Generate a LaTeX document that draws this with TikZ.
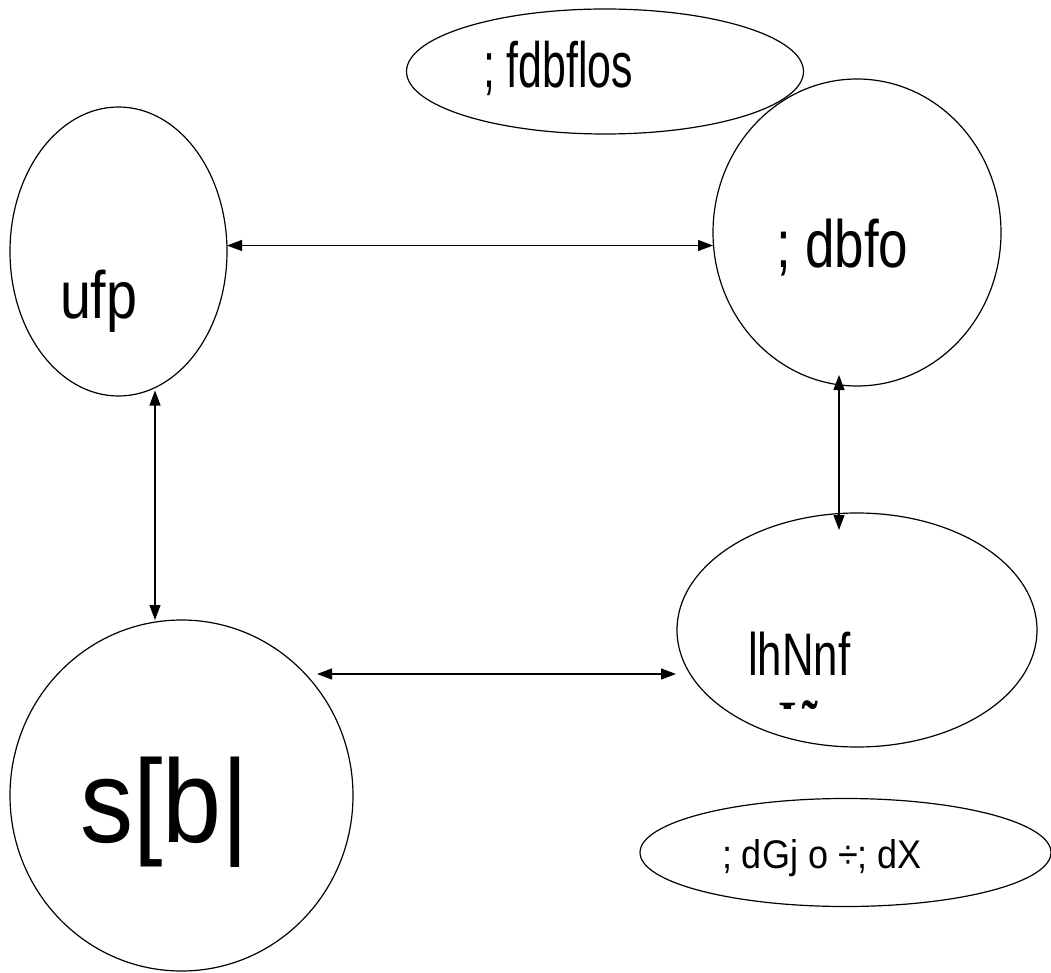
\documentclass[tikz,border=0pt]{standalone}
\usepackage{fontspec}
\setmainfont{Liberation Sans}
\newfontfamily\serifbold[FakeStretch=0.8]{Liberation Serif}
\usepackage{tikz}
\usetikzlibrary{shapes.geometric,arrows.meta}

\begin{document}
\begin{tikzpicture}[x=1pt,y=-1pt]
  \tikzset{ShapeStyle/.style = {
    shape         = ellipse,
    draw          = black,
    fill          = white,
    line width    = 1.2pt,
    inner sep     = 0pt,
    outer sep     = 0pt
    }
  }
  \tikzset{TextStyle/.style = {
    text          = black,
    inner sep     = 0pt,
    outer sep     = 0pt,
    anchor        = base west
    }
  }
  \tikzset{EdgeStyle/.style = {
    draw          = black,
    line width    = 1.2pt,
    {Triangle[length=15pt,width=11pt]}-{Triangle[length=15pt,width=11pt]}
    }
  }
  \useasboundingbox (0, 0) rectangle (1051, 973);

	\node[ShapeStyle, minimum width=397pt, minimum height=125pt](Top) at (605, 71.5) {};
	\node[ShapeStyle, minimum width=217pt, minimum height=289pt](Left) at (118.5, 251.5) {};
	\node[ShapeStyle, minimum width=288pt, minimum height=307pt](Right) at (857, 232.5) {};
	\node[ShapeStyle, minimum width=360pt, minimum height=234pt](Mid) at (857, 630) {};
	\node[ShapeStyle, minimum width=343pt, minimum height=351pt](Big) at (181.5, 795.5) {};
	\node[ShapeStyle, minimum width=411pt, minimum height=108pt](Low) at (845.5, 852.5) {};

	\node[TextStyle, font=\addfontfeature{FakeStretch=0.67}\fontsize{64}{70}\selectfont](TopText) at (483, 88) {; fdbflos};
	\node[TextStyle, font=\addfontfeature{FakeStretch=0.83}\fontsize{67}{72}\selectfont](LeftText) at (60, 318) {ufp};
	\node[TextStyle, font=\addfontfeature{FakeStretch=0.79}\fontsize{67}{72}\selectfont](RightText) at (776, 268) {; dbfo};
	\node[TextStyle, font=\addfontfeature{FakeStretch=0.73}\fontsize{60}{66}\selectfont](MidText) at (748, 675) {lhNnf};
	\begin{scope}
	  \clip (740, 690) rectangle (900, 708);
	  \node[TextStyle, font=\serifbold\bfseries\fontsize{60}{66}\selectfont](MidTextB) at (778, 742) {Iñ};
	\end{scope}
	\node[TextStyle, font=\addfontfeature{FakeStretch=0.9}\fontsize{118}{124}\selectfont](BigText) at (80, 842) {s[b|};
	\node[TextStyle, font=\addfontfeature{FakeStretch=0.9}\fontsize{40}{46}\selectfont](LowText) at (722, 868) {; dGj o ÷; dX};

	\draw[EdgeStyle]([yshift=6pt]Left.east) to ([yshift=-13pt]Right.west);
	\draw[EdgeStyle]([shift={(36.5pt,5.5pt)}]Left.south) to ([xshift=-26.5pt]Big.north);
	\draw[EdgeStyle]([shift={(-18pt,11pt)}]Right.south) to ([shift={(-18pt,-17pt)}]Mid.north);
	\draw[EdgeStyle]([shift={(135.5pt,-54pt)}]Big.north) to ([shift={(-1pt,-44pt)}]Mid.west);

  \end{tikzpicture}
\end{document}
